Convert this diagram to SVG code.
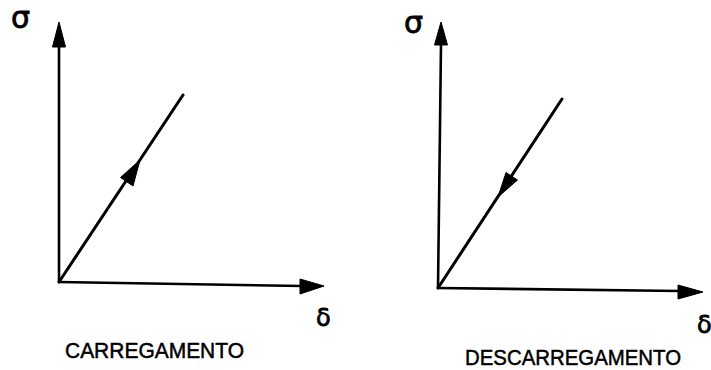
<svg xmlns="http://www.w3.org/2000/svg" width="711" height="370" viewBox="0 0 711 370">
<style>
.ax{stroke:#000;stroke-width:2.6;fill:none;stroke-linecap:round}
.dg{stroke:#000;stroke-width:3;fill:none;stroke-linecap:round}
.hd{fill:#000;stroke:#000;stroke-width:1;stroke-linejoin:round}
.sym{font-family:"DejaVu Sans",sans-serif;fill:#000;stroke:#000;stroke-width:0.8}
.lbl{font-family:"Liberation Sans",Arial,sans-serif;font-size:22px;fill:#000;stroke:#000;stroke-width:0.5}
</style>
<rect width="711" height="370" fill="#fff"/>
<g id="connectors">
  <line class="ax" x1="59" y1="282" x2="59" y2="46"/>
  <polygon class="hd" points="59,22 52.5,47 65.5,47"/>
  <line class="ax" x1="59" y1="282" x2="302" y2="286"/>
  <polygon class="hd" points="324,286 300,279 300,294"/>
  <line class="dg" x1="59" y1="282" x2="183" y2="95"/>
  <polygon class="hd" points="140,160 133,186 120.5,177.5"/>
  <line class="ax" x1="438" y1="288" x2="441" y2="44"/>
  <polygon class="hd" points="441,22 434.5,45 447.5,45"/>
  <line class="ax" x1="438" y1="288" x2="680" y2="291"/>
  <polygon class="hd" points="703,292 678,285 678,299"/>
  <line class="dg" x1="438" y1="288" x2="562" y2="99"/>
  <polygon class="hd" points="498,197 517.5,180 506,172.5"/>
</g>
<g id="left-plot">
  <text class="sym" x="11" y="28" font-size="30">σ</text>
  <text class="sym" x="316" y="326" font-size="24">δ</text>
  <text class="lbl" x="65" y="358" textLength="179" lengthAdjust="spacingAndGlyphs">CARREGAMENTO</text>
</g>
<g id="right-plot">
  <text class="sym" x="404" y="33" font-size="30">σ</text>
  <text class="sym" x="697" y="333" font-size="24">δ</text>
  <text class="lbl" x="465" y="365" textLength="216" lengthAdjust="spacingAndGlyphs">DESCARREGAMENTO</text>
</g>
</svg>
